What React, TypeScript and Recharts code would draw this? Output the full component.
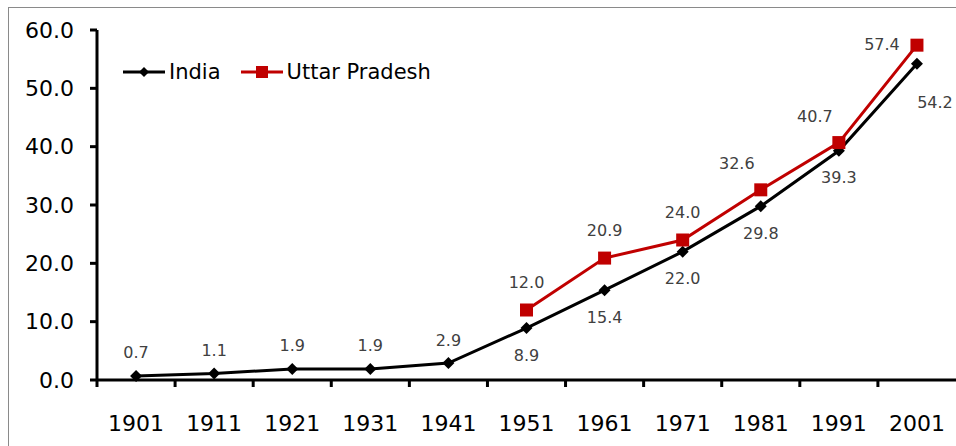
import { ComposedChart, Line, XAxis, YAxis, Legend, LabelList } from "recharts";

const YEARS = ["1901", "1911", "1921", "1931", "1941", "1951", "1961", "1971", "1981", "1991", "2001"];
const INDIA = [0.7, 1.1, 1.9, 1.9, 2.9, 8.9, 15.4, 22.0, 29.8, 39.3, 54.2];
const UP = [null, null, null, null, null, 12.0, 20.9, 24.0, 32.6, 40.7, 57.4];
const Y_TICKS = [0, 10, 20, 30, 40, 50, 60];

const RED = "#C00000";
const FONT = "'DejaVu Sans', sans-serif";
const LABEL_FILL = "#404040";

const data = YEARS.map((year, i) => ({ year, india: INDIA[i], up: UP[i] }));

function Diamond({ cx, cy, size = 6, fill = "#000" }: any) {
  if (cx == null || cy == null) return null;
  return <polygon points={`${cx},${cy - size} ${cx + size},${cy} ${cx},${cy + size} ${cx - size},${cy}`} fill={fill} />;
}

function Square({ cx, cy, size = 6.5, fill = RED }: any) {
  if (cx == null || cy == null) return null;
  return <rect x={cx - size} y={cy - size} width={size * 2} height={size * 2} fill={fill} />;
}

// india: early points labelled above, later below, last one right-below
function IndiaLabel({ x, y, value, index }: any) {
  if (value == null) return null;
  let dx = 0, dy = -22;
  if (index >= 5) dy = 28;
  if (index === 10) { dx = 18; dy = 40; }
  return (
    <text x={x + dx} y={y + dy} textAnchor="middle" dominantBaseline="middle"
      style={{ fontSize: 16, fill: LABEL_FILL, fontFamily: FONT }}>
      {Number(value).toFixed(1)}
    </text>
  );
}

function UpLabel({ x, y, value, index }: any) {
  if (value == null) return null;
  let dx = 0, dy = -27;
  if (index === 8 || index === 9) { dx = -24; dy = -25; }
  if (index === 10) { dx = -35; dy = 0; }
  return (
    <text x={x + dx} y={y + dy} textAnchor="middle" dominantBaseline="middle"
      style={{ fontSize: 16, fill: LABEL_FILL, fontFamily: FONT }}>
      {Number(value).toFixed(1)}
    </text>
  );
}

function XTick({ x, y, payload }: any) {
  const half = payload?.offset ?? 39;
  return (
    <g>
      <line x1={x - half} y1={y - 9} x2={x - half} y2={y - 1} stroke="#000" strokeWidth={3} />
      <text x={x} y={y + 43} textAnchor="middle" style={{ fontSize: 22, fill: "#000", fontFamily: FONT }}>
        {payload.value}
      </text>
    </g>
  );
}

function LegendContent() {
  const items = [
    { name: "India", color: "#000", marker: <Diamond cx={21} cy={12} size={5} /> },
    { name: "Uttar Pradesh", color: RED, marker: <Square cx={21} cy={12} size={6} /> },
  ];
  return (
    <div style={{ display: "flex", alignItems: "center", fontFamily: FONT, fontSize: 21, color: "#000" }}>
      {items.map((it, i) => (
        <div key={it.name} style={{ display: "flex", alignItems: "center", marginRight: i === 0 ? 20 : 0 }}>
          <svg width={42} height={24} style={{ marginRight: 4 }}>
            <line x1={0} y1={12} x2={42} y2={12} stroke={it.color} strokeWidth={3} />
            {it.marker}
          </svg>
          <span>{it.name}</span>
        </div>
      ))}
    </div>
  );
}

export default function App() {
  return (
    <div style={{ position: "absolute", left: 0, top: 0, width: 956, height: 446, overflow: "hidden", background: "#fff" }}>
      <div style={{ position: "absolute", left: 8, top: 7, width: 1000, height: 1000, border: "1.5px solid #8a8a8a" }} />
      <div style={{ position: "absolute", left: 0, top: 0 }}>
        <ComposedChart width={956} height={446} data={data} margin={{ top: 30, right: 0, left: 0, bottom: 0 }}>
          <XAxis dataKey="year" scale="band" height={66} axisLine={{ stroke: "#000", strokeWidth: 3 }}
            tickLine={false} tick={<XTick />} interval={0} />
          <YAxis width={97} domain={[0, 60]} ticks={Y_TICKS} interval={0}
            tickFormatter={(v: number) => v.toFixed(1)}
            axisLine={{ stroke: "#000", strokeWidth: 3 }} tickLine={{ stroke: "#000", strokeWidth: 3 }}
            tickSize={7} tickMargin={16}
            tick={{ fontSize: 22, fill: "#000", fontFamily: FONT }} />
          <Legend verticalAlign="middle" align="center" content={<LegendContent />}
            wrapperStyle={{ left: 123, top: 60, width: "auto" }} />
          <Line dataKey="india" name="India" stroke="#000" strokeWidth={3} isAnimationActive={false}
            dot={(p: any) => <Diamond key={`d${p.index}`} cx={p.cx} cy={p.cy} size={6} />} activeDot={false}>
            <LabelList dataKey="india" content={<IndiaLabel />} />
          </Line>
          <Line dataKey="up" name="Uttar Pradesh" stroke={RED} strokeWidth={3} isAnimationActive={false}
            dot={(p: any) => <Square key={`s${p.index}`} cx={p.cx} cy={p.cy} size={6.5} />} activeDot={false}>
            <LabelList dataKey="up" content={<UpLabel />} />
          </Line>
        </ComposedChart>
      </div>
    </div>
  );
}
